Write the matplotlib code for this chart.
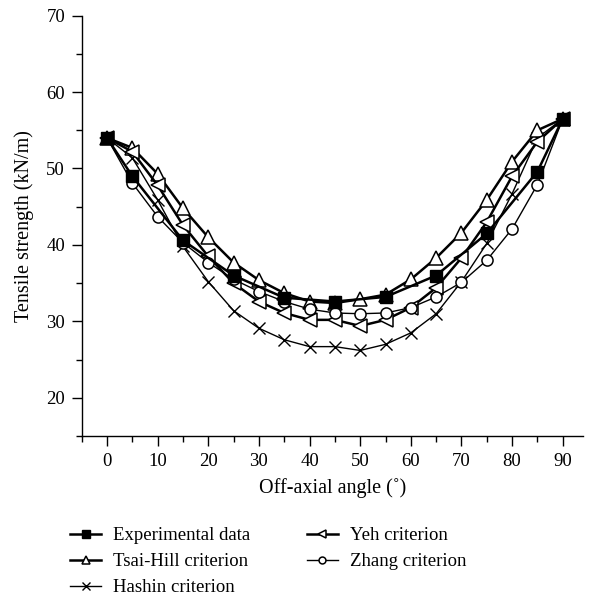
import matplotlib
matplotlib.use("Agg")
import matplotlib.pyplot as plt
from matplotlib.ticker import MultipleLocator

plt.rcParams['font.family'] = ['Liberation Serif', 'DejaVu Serif']

# Off-axial angle (degrees)
angles_exp = [0, 5, 15, 25, 35, 45, 55, 65, 75, 85, 90]
angles = [0, 5, 10, 15, 20, 25, 30, 35, 40, 45, 50, 55, 60, 65, 70, 75, 80, 85, 90]

# Tensile strength (kN/m)
experimental = [54.0, 49.0, 40.6, 36.0, 33.1, 32.6, 33.2, 36.0, 41.5, 49.6, 56.5]
tsai_hill = [54.0, 52.7, 49.3, 44.8, 41.0, 37.7, 35.4, 33.7, 32.6, 32.4, 32.9, 33.5,
             35.5, 38.3, 41.6, 45.9, 50.9, 55.0, 56.5]
yeh = [54.0, 52.2, 47.8, 42.6, 38.5, 35.0, 32.6, 31.1, 30.2, 30.2, 29.4, 30.2,
       31.8, 34.4, 38.3, 43.0, 49.0, 53.5, 56.5]
zhang = [54.0, 48.1, 43.7, 40.3, 37.7, 35.5, 33.9, 32.6, 31.6, 31.1, 31.0, 31.1,
         31.8, 33.2, 35.1, 38.0, 42.1, 47.9, 56.5]
hashin = [54.0, 51.4, 45.9, 39.8, 35.2, 31.4, 29.1, 27.6, 26.7, 26.7, 26.2, 27.0,
          28.5, 31.0, 35.2, 40.2, 46.7, 54.0, 56.5]

TICK_FS = 13.5
LABEL_FS = 14.5
LEGEND_FS = 13.5

fig = plt.figure(figsize=(5.94, 5.99), dpi=100)
ax = fig.add_axes([0.1375, 0.272, 0.844, 0.702])

ax.plot(angles_exp, experimental, color='black', lw=1.8, marker='s', ms=8.5,
        mfc='black', mec='black', label='Experimental data', zorder=5)
ax.plot(angles, tsai_hill, color='black', lw=1.8, marker='^', ms=9.5,
        mfc='white', mec='black', mew=1.1, label='Tsai-Hill criterion', zorder=4)
ax.plot(angles, hashin, color='black', lw=1.0, marker='x', ms=8.5,
        mec='black', mew=1.0, label='Hashin criterion', zorder=3)
ax.plot(angles, yeh, color='black', lw=1.8, marker='<', ms=9.5,
        mfc='white', mec='black', mew=1.1, label='Yeh criterion', zorder=4)
ax.plot(angles, zhang, color='black', lw=1.0, marker='o', ms=8,
        mfc='white', mec='black', mew=1.1, label='Zhang criterion', zorder=4)

ax.set_xlim(-5, 94)
ax.set_ylim(15, 70)
ax.xaxis.set_major_locator(MultipleLocator(10))
ax.xaxis.set_minor_locator(MultipleLocator(5))
ax.yaxis.set_minor_locator(MultipleLocator(5))
ax.set_yticks(range(20, 71, 10))
ax.tick_params(which='major', direction='out', length=7, width=1.0,
               labelsize=TICK_FS, pad=5)
ax.tick_params(which='minor', direction='out', length=4, width=1.0)
for s in ['top', 'right']:
    ax.spines[s].set_visible(False)
for s in ['left', 'bottom']:
    ax.spines[s].set_linewidth(1.0)

ax.set_xlabel('Off-axial angle (˚)', fontsize=LABEL_FS, labelpad=6)
ax.set_ylabel('Tensile strength (kN/m)', fontsize=LABEL_FS, labelpad=9)

handles, labels = ax.get_legend_handles_labels()
# column-major order: Experimental, Tsai-Hill, Hashin | Yeh, Zhang
fig.legend(handles, labels, ncol=2, loc='upper left',
           bbox_to_anchor=(0.118, 0.12), frameon=False, fontsize=LEGEND_FS,
           borderpad=0, borderaxespad=0,
           handlelength=1.65, handletextpad=0.65, columnspacing=3.0,
           labelspacing=0.48, markerscale=0.62)

fig.savefig('out.png', dpi=100)
